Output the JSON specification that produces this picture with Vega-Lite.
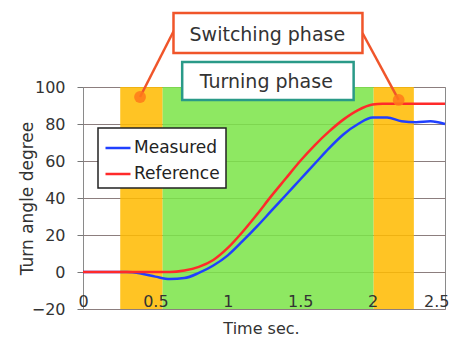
{
  "$schema": "https://vega.github.io/schema/vega-lite/v6.json",
  "width": 362,
  "height": 222,
  "autosize": {"type": "none"},
  "padding": {"left": 83, "top": 87, "right": 5, "bottom": 29},
  "background": "white",
  "config": {
    "font": "DejaVu Sans",
    "view": {"stroke": "#8a8a8a", "strokeWidth": 1},
    "legend": {"strokeWidth": 1.5}
  },
  "datasets": {
    "bands": [
      {"phase": "switch", "t0": 0.257, "t1": 0.55},
      {"phase": "turn", "t0": 0.55, "t1": 2.007},
      {"phase": "switch", "t0": 2.007, "t1": 2.285}
    ],
    "curves": [
      {"series": "Measured", "t": 0, "v": 0},
      {"series": "Measured", "t": 0.3, "v": 0},
      {"series": "Measured", "t": 0.4, "v": -0.8},
      {"series": "Measured", "t": 0.5, "v": -2.5},
      {"series": "Measured", "t": 0.6, "v": -3.8},
      {"series": "Measured", "t": 0.7, "v": -3.3},
      {"series": "Measured", "t": 0.8, "v": -0.5},
      {"series": "Measured", "t": 0.9, "v": 3.5},
      {"series": "Measured", "t": 1.0, "v": 9},
      {"series": "Measured", "t": 1.1, "v": 16.5},
      {"series": "Measured", "t": 1.2, "v": 24.5},
      {"series": "Measured", "t": 1.3, "v": 33},
      {"series": "Measured", "t": 1.4, "v": 41.5},
      {"series": "Measured", "t": 1.5, "v": 50},
      {"series": "Measured", "t": 1.6, "v": 58.5},
      {"series": "Measured", "t": 1.7, "v": 67},
      {"series": "Measured", "t": 1.8, "v": 74.5},
      {"series": "Measured", "t": 1.9, "v": 80},
      {"series": "Measured", "t": 2.0, "v": 83.5},
      {"series": "Measured", "t": 2.1, "v": 83.5},
      {"series": "Measured", "t": 2.2, "v": 81.5},
      {"series": "Measured", "t": 2.3, "v": 81},
      {"series": "Measured", "t": 2.4, "v": 81.5},
      {"series": "Measured", "t": 2.5, "v": 80},
      {"series": "Reference", "t": 0, "v": 0},
      {"series": "Reference", "t": 0.5, "v": 0},
      {"series": "Reference", "t": 0.6, "v": 0},
      {"series": "Reference", "t": 0.7, "v": 0.8},
      {"series": "Reference", "t": 0.8, "v": 2.8},
      {"series": "Reference", "t": 0.9, "v": 6.5},
      {"series": "Reference", "t": 1.0, "v": 13},
      {"series": "Reference", "t": 1.1, "v": 21.5},
      {"series": "Reference", "t": 1.2, "v": 31},
      {"series": "Reference", "t": 1.3, "v": 41},
      {"series": "Reference", "t": 1.4, "v": 50.5},
      {"series": "Reference", "t": 1.5, "v": 60},
      {"series": "Reference", "t": 1.6, "v": 68.5},
      {"series": "Reference", "t": 1.7, "v": 76},
      {"series": "Reference", "t": 1.8, "v": 82.5},
      {"series": "Reference", "t": 1.9, "v": 87.5},
      {"series": "Reference", "t": 2.0, "v": 90.5},
      {"series": "Reference", "t": 2.07, "v": 91},
      {"series": "Reference", "t": 2.5, "v": 91}
    ],
    "boxes": [
      {"name": "Switching phase", "t0": 0.625, "t1": 1.93, "v0": 118.4, "v1": 140, "tc": 1.273, "vc": 128},
      {"name": "Turning phase", "t0": 0.685, "t1": 1.869, "v0": 93, "v1": 113.5, "tc": 1.266, "vc": 102.7}
    ],
    "connectors": [
      {"ta": 0.637, "va": 131.9, "tb": 0.394, "vb": 94.6},
      {"ta": 1.93, "va": 129.2, "tb": 2.18, "vb": 93}
    ]
  },
  "layer": [
    {
      "data": {"name": "bands"},
      "mark": {"type": "rect", "opacity": 0.86},
      "encoding": {
        "x": {"field": "t0", "type": "quantitative", "title": "Time sec."},
        "x2": {"field": "t1"},
        "y": {"datum": -20, "type": "quantitative"},
        "y2": {"datum": 100},
        "fill": {"field": "phase", "type": "nominal", "scale": {"domain": ["switch", "turn"], "range": ["#ffba00", "#7ce448"]}, "legend": null}
      }
    },
    {
      "data": {"name": "curves"},
      "mark": {"type": "line", "strokeWidth": 2.5, "interpolate": "monotone"},
      "encoding": {
        "x": {
          "field": "t", "type": "quantitative",
          "scale": {"domain": [0, 2.5], "nice": false},
          "axis": {
            "values": [0, 0.5, 1, 1.5, 2, 2.5], "format": "~g", "grid": false, "domain": false,
            "ticks": false, "tickSize": 0, "labelPadding": -16, "labelFontSize": 16, "labelColor": "#333",
            "labelFlush": false, "labelOverlap": false, "zindex": 1,
            "labelAlign": {"condition": {"test": "datum.value >= 2.5", "value": "right"}, "value": "center"},
            "labelOffset": {"condition": {"test": "datum.value >= 2.5", "value": 4}, "value": 0},
            "title": "Time sec.", "titleFontSize": 16, "titleFontWeight": "normal", "titleColor": "#333",
            "titleX": 178, "titleY": 19, "titleBaseline": "middle", "titleAlign": "center"
          }
        },
        "y": {
          "field": "v", "type": "quantitative",
          "scale": {"domain": [-20, 100], "nice": false},
          "axis": {
            "values": [-20, 0, 20, 40, 60, 80, 100], "tickCount": 7, "grid": true, "gridColor": "#8c7e7e", "gridWidth": 1,
            "domain": false, "tickSize": 6, "tickColor": "#777", "labelPadding": 12, "labelFontSize": 16,
            "labelColor": "#333", "labelOverlap": false, "zindex": 0,
            "title": "Turn angle degree", "titleFontSize": 17, "titleFontWeight": "normal", "titleColor": "#333",
            "titleX": -56, "titleY": 111, "titleBaseline": "middle", "titleAlign": "center", "titleAngle": -90
          }
        },
        "color": {
          "field": "series", "type": "nominal",
          "scale": {"domain": ["Measured", "Reference"], "range": ["#2040ff", "#ff2a2a"]},
          "legend": {
            "orient": "none", "legendX": 15, "legendY": 41, "title": null,
            "symbolType": "stroke", "symbolSize": 625, "symbolStrokeWidth": 2.5,
            "labelFontSize": 17, "labelColor": "#222", "labelOffset": 2,
            "fillColor": "white", "strokeColor": "#222", "padding": 6, "rowPadding": 4
          }
        }
      }
    },
    {
      "data": {"name": "connectors"},
      "mark": {"type": "rule", "color": "#f0552a", "strokeWidth": 2.5},
      "encoding": {
        "x": {"field": "ta", "type": "quantitative", "title": "Time sec."},
        "y": {"field": "va", "type": "quantitative", "title": "Turn angle degree"},
        "x2": {"field": "tb"},
        "y2": {"field": "vb"}
      }
    },
    {
      "data": {"name": "connectors"},
      "mark": {"type": "point", "filled": true, "color": "#ff7a1a", "opacity": 0.85, "size": 140},
      "encoding": {
        "x": {"field": "tb", "type": "quantitative", "title": "Time sec."},
        "y": {"field": "vb", "type": "quantitative", "title": "Turn angle degree"}
      }
    },
    {
      "data": {"name": "boxes"},
      "mark": {"type": "rect", "fill": "white", "strokeWidth": 2.5},
      "encoding": {
        "x": {"field": "t0", "type": "quantitative", "title": "Time sec."},
        "x2": {"field": "t1"},
        "y": {"field": "v0", "type": "quantitative", "title": "Turn angle degree"},
        "y2": {"field": "v1"},
        "stroke": {"field": "name", "type": "nominal", "scale": {"domain": ["Switching phase", "Turning phase"], "range": ["#f0552a", "#2a9a88"]}, "legend": null}
      }
    },
    {
      "data": {"name": "boxes"},
      "mark": {"type": "text", "fontSize": 19, "color": "#333", "baseline": "middle", "align": "center"},
      "encoding": {
        "x": {"field": "tc", "type": "quantitative", "title": "Time sec."},
        "y": {"field": "vc", "type": "quantitative", "title": "Turn angle degree"},
        "text": {"field": "name"}
      }
    }
  ]
}
